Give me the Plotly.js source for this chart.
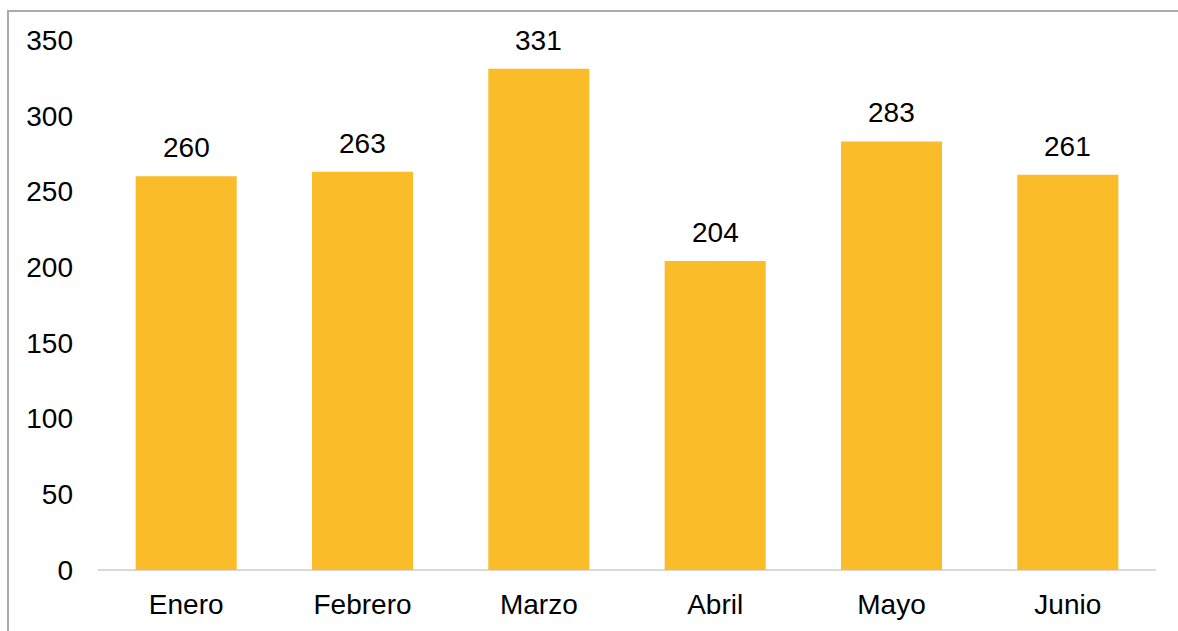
<!DOCTYPE html>
<html>
<head>
<meta charset="utf-8">
<script src="https://cdn.plot.ly/plotly-3.0.1.min.js"></script>
<style>
  html, body { margin: 0; padding: 0; background: #fff; }
  #frame { position: absolute; left: 7px; top: 10px; width: 1200px; height: 700px; border-left: 2px solid #ababab; border-top: 2px solid #ababab; box-sizing: border-box; pointer-events: none; z-index: 5; }
  #chart { position: absolute; left: 0; top: 0; width: 1178px; height: 631px; }
</style>
</head>
<body>
<div id="chart"></div>
<div id="frame"></div>
<script>
const months = ["Enero", "Febrero", "Marzo", "Abril", "Mayo", "Junio"];
const values = [260, 263, 331, 204, 283, 261];
const yTicks = [0, 50, 100, 150, 200, 250, 300, 350];

const font = { family: "Liberation Sans, Arial, sans-serif", size: 28, color: "#000" };

const annotations = months.map((m, i) => ({
  x: m, y: values[i], xref: "x", yref: "y",
  text: String(values[i]), showarrow: false,
  yanchor: "bottom", xanchor: "center", yshift: 11,
  font: font
}));

Plotly.newPlot("chart", [{
  type: "bar",
  x: months,
  y: values,
  marker: { color: "#FBBC29" },
  hoverinfo: "skip"
}], {
  width: 1178, height: 631,
  margin: { l: 98, r: 22, t: 40, b: 61 },
  paper_bgcolor: "#fff", plot_bgcolor: "#fff",
  bargap: 0.427,
  showlegend: false,
  font: font,
  xaxis: {
    showgrid: false, zeroline: false, showline: false,
    ticks: "", ticklabelstandoff: 15, tickfont: font,
    fixedrange: true
  },
  yaxis: {
    range: [0, 350], tickvals: yTicks, ticktext: yTicks.map(String),
    showgrid: false, zeroline: true, zerolinecolor: "#d9d9d9", zerolinewidth: 2,
    showline: false, ticks: "", ticklabelstandoff: 24, tickfont: font,
    fixedrange: true
  },
  annotations: annotations
}, { displayModeBar: false, staticPlot: true });
</script>
</body>
</html>
